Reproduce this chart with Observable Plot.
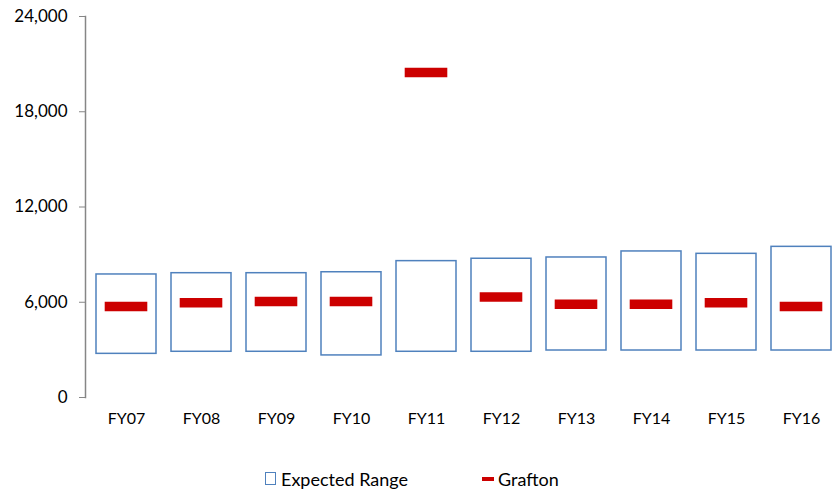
<!DOCTYPE html>
<html>
<head>
<meta charset="utf-8">
<script src="https://cdn.jsdelivr.net/npm/d3@7"></script>
<script src="https://cdn.jsdelivr.net/npm/@observablehq/plot@0.6"></script>
<style>
  html, body { margin: 0; padding: 0; background: #fff; }
  #wrap { position: relative; width: 835px; height: 491px; overflow: hidden; font-family: Lato, "Open Sans", sans-serif; }
  #chart { position: absolute; left: 0; top: 0; }
  .leg { position: absolute; font-size: 18px; color: #000; line-height: 20px; }
  .box { position: absolute; width: 9px; height: 11px; border: 1.5px solid #4F81BD; background: #fff; }
  .dash { position: absolute; width: 12px; height: 4px; background: #CC0000; }
</style>
</head>
<body>
<div id="wrap">
  <div id="chart"></div>
  <div class="box" style="left:265px; top:472px;"></div>
  <div class="leg" style="left:281px; top:469px;">Expected Range</div>
  <div class="dash" style="left:482px; top:477px;"></div>
  <div class="leg" style="left:498px; top:469px;">Grafton</div>
</div>
<script>
const years = ["FY07", "FY08", "FY09", "FY10", "FY11", "FY12", "FY13", "FY14", "FY15", "FY16"];
const rangeLow = [2750, 2880, 2880, 2650, 2880, 2880, 2960, 2960, 2960, 2960];
const rangeHigh = [7750, 7830, 7830, 7890, 8590, 8740, 8820, 9200, 9050, 9490];
const grafton = [5730, 5970, 6050, 6050, 20470, 6330, 5880, 5880, 5970, 5730];
const yTicks = [0, 6000, 12000, 18000, 24000];

const data = years.map((y, i) => ({year: y, low: rangeLow[i], high: rangeHigh[i], grafton: grafton[i]}));

const chart = Plot.plot({
  width: 835,
  height: 440,
  marginLeft: 85,
  marginRight: 0,
  marginTop: 16,
  marginBottom: 43,
  style: {fontFamily: "Lato, 'Open Sans', sans-serif", background: "white", overflow: "visible"},
  x: {domain: years, range: [86, 841], paddingInner: 0.2, paddingOuter: 0.1, label: null},
  y: {domain: [0, 24000], label: null},
  marks: [
    Plot.frame({anchor: "left", stroke: "#868686", strokeWidth: 1.5}),
    Plot.axisY({ticks: yTicks, tickSize: 6, tickPadding: 12, tickFormat: d3.format(","), stroke: "#868686", fill: "#000", fontSize: 17, label: null}),
    Plot.axisX({tickSize: 0, tickPadding: 15, fill: "#000", fontSize: 16, label: null}),
    Plot.barY(data, {x: "year", y1: "low", y2: "high", fill: "white", stroke: "#4F81BD", strokeWidth: 1.5}),
    Plot.tickY(data, {x: "year", y: "grafton", stroke: "#CC0000", strokeWidth: 9.5, insetLeft: 8.7, insetRight: 8.7})
  ]
});
document.getElementById("chart").appendChild(chart);
</script>
</body>
</html>
